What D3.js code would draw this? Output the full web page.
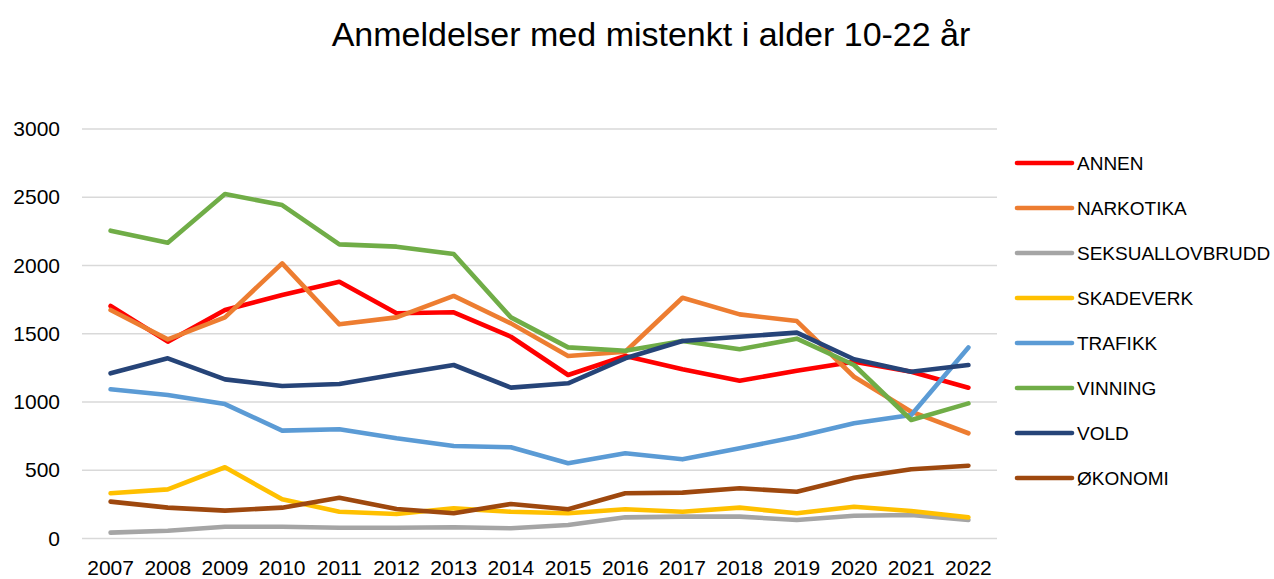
<!DOCTYPE html>
<html>
<head>
<meta charset="utf-8">
<script src="https://cdn.jsdelivr.net/npm/d3@7/dist/d3.min.js"></script>
<style>
  html, body { margin: 0; padding: 0; background: #fff; }
  svg { display: block; font-family: "Liberation Sans", Arial, sans-serif; }
</style>
</head>
<body>
<svg id="chart" width="1274" height="579"></svg>
<script>
const years = ["2007","2008","2009","2010","2011","2012","2013","2014","2015","2016","2017","2018","2019","2020","2021","2022"];
const seriesNames = ["ANNEN","NARKOTIKA","SEKSUALLOVBRUDD","SKADEVERK","TRAFIKK","VINNING","VOLD","ØKONOMI"];
const annen = [1703,1442,1674,1784,1881,1650,1657,1478,1198,1337,1240,1156,1229,1295,1222,1105];
const narkotika = [1674,1459,1620,2016,1569,1620,1777,1576,1337,1368,1764,1642,1593,1185,929,771];
const seksuallovbrudd = [43,57,86,86,79,79,82,75,99,155,160,160,136,167,172,136];
const skadeverk = [331,360,522,287,196,180,221,196,185,214,196,226,185,233,201,155];
const trafikk = [1093,1051,985,790,800,734,678,668,551,624,580,661,746,844,905,1400];
const vinning = [2255,2167,2524,2443,2155,2138,2084,1620,1400,1376,1447,1386,1464,1271,868,990];
const vold = [1210,1320,1166,1117,1132,1203,1271,1105,1137,1320,1447,1478,1508,1313,1222,1271];
const okonomi = [270,226,204,226,299,216,185,253,214,331,336,368,343,445,507,533];
const yTicks = [0,500,1000,1500,2000,2500,3000];
const title = "Anmeldelser med mistenkt i alder 10-22 år";

const colors = ["#FF0000","#ED7D31","#A5A5A5","#FFC000","#5B9BD5","#70AD47","#264478","#9E480E"];
const values = [annen, narkotika, seksuallovbrudd, skadeverk, trafikk, vinning, vold, okonomi];
const series = seriesNames.map((n, i) => ({ name: n, color: colors[i], values: values[i] }));

const svg = d3.select("#chart");
const x = d3.scaleBand().domain(years).range([82, 997]);
const y = d3.scaleLinear().domain([0, 3000]).range([538.5, 129]);

// gridlines
svg.append("g").selectAll("line").data(yTicks).join("line")
  .attr("x1", 82).attr("x2", 997)
  .attr("y1", d => y(d)).attr("y2", d => y(d))
  .attr("stroke", "#D9D9D9").attr("stroke-width", 1.3);

// y axis labels
const yAxis = d3.axisLeft(y).tickValues(yTicks).tickFormat(d3.format("d")).tickSize(0).tickPadding(0);
const gy = svg.append("g").attr("transform", "translate(60,0)").call(yAxis);
gy.select(".domain").remove();
gy.selectAll("text").attr("font-size", 21).attr("fill", "#000").attr("font-family", "Liberation Sans, Arial, sans-serif");

// x axis labels
const xAxis = d3.axisBottom(x).tickSize(0).tickPadding(0);
const gx = svg.append("g").attr("transform", "translate(0,560)").call(xAxis);
gx.select(".domain").remove();
gx.selectAll("text").attr("font-size", 21).attr("fill", "#000").attr("dy", "0.71em").attr("font-family", "Liberation Sans, Arial, sans-serif");

// lines
const line = d3.line()
  .x((d, i) => x(years[i]) + x.bandwidth() / 2)
  .y(d => y(d));
svg.append("g").selectAll("path").data(series).join("path")
  .attr("d", d => line(d.values))
  .attr("fill", "none")
  .attr("stroke", d => d.color)
  .attr("stroke-width", 4.6)
  .attr("stroke-linejoin", "round")
  .attr("stroke-linecap", "round");

// legend
const lg = svg.append("g").selectAll("g").data(series).join("g")
  .attr("transform", (d, i) => `translate(1017,${163 + i * 45})`);
lg.append("line").attr("x1", 0).attr("x2", 55).attr("y1", 0).attr("y2", 0)
  .attr("stroke", d => d.color).attr("stroke-width", 4.6).attr("stroke-linecap", "round");
lg.append("text").attr("x", 60).attr("y", 0).attr("dy", "0.36em")
  .attr("font-size", 19).attr("fill", "#000").text(d => d.name);

// title
svg.append("text").attr("x", 651).attr("y", 46).attr("text-anchor", "middle")
  .attr("font-size", 34).attr("fill", "#000").text(title);
</script>
</body>
</html>
